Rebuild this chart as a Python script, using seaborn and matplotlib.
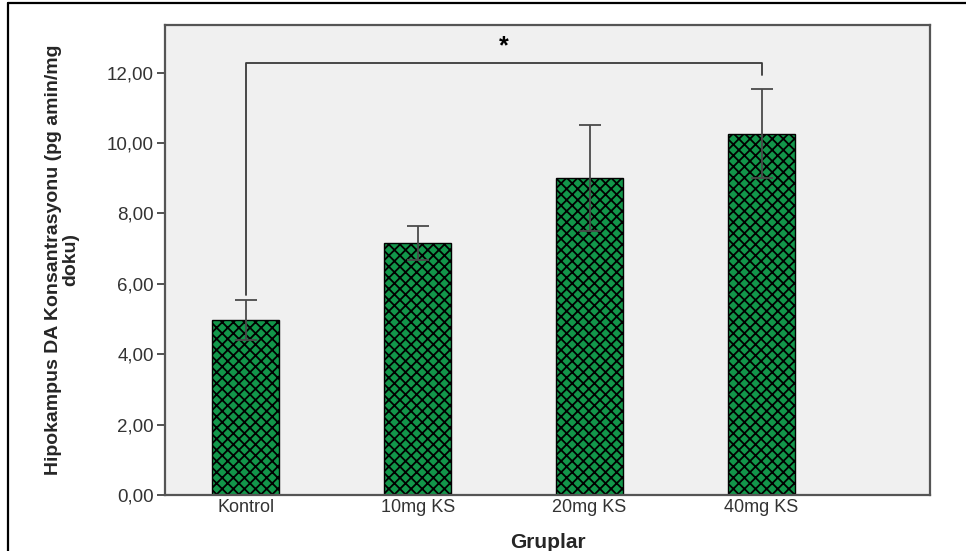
import matplotlib
matplotlib.use("Agg")
import matplotlib.pyplot as plt
import seaborn as sns
import numpy as np
import pandas as pd

groups = ["Kontrol", "10mg KS", "20mg KS", "40mg KS"]
means = [4.97, 7.16, 9.00, 10.26]
errors = [0.57, 0.48, 1.50, 1.27]
yticks = [0, 2, 4, 6, 8, 10, 12]
ytick_labels = ["0,00", "2,00", "4,00", "6,00", "8,00", "10,00", "12,00"]
ylabel = "Hipokampus DA Konsantrasyonu (pg amin/mg\ndoku)"
xlabel = "Gruplar"
sig_pair = (0, 3)
sig_text = "*"

sns.set_style("white")
plt.rcParams["font.family"] = ["Liberation Sans", "DejaVu Sans"]
plt.rcParams["hatch.color"] = "black"
plt.rcParams["hatch.linewidth"] = 1.3

fig = plt.figure(figsize=(9.66, 5.51), dpi=100)
ax = fig.add_axes([165/966, 1-495/551, (930-165)/966, (495-25)/551])
ax.set_facecolor("#f0f0f0")

df = pd.DataFrame({"grp": groups, "val": means})
sns.barplot(data=df, x="grp", y="val", order=groups, color="#0f8a45",
            width=0.39, edgecolor="black", linewidth=1.0, errorbar=None,
            saturation=1, ax=ax)
for p in ax.patches:
    p.set_hatch("xxx")
    p.set_facecolor("#12964a")

xpos = np.arange(len(groups))
ax.errorbar(xpos, means, yerr=errors, fmt="none", ecolor="#4a4a4a",
            elinewidth=1.3, capsize=8, capthick=1.3, zorder=5)

# significance bracket
top = 12.27
i, j = sig_pair
ax.plot([xpos[i], xpos[i], xpos[j], xpos[j]],
        [means[i] + errors[i] + 0.15, top, top, 11.93],
        color="#3a3a3a", lw=1.3, zorder=6)
ax.text((xpos[i] + xpos[j]) / 2, 12.75, sig_text, ha="center", va="center",
        fontsize=18, fontweight="bold", color="black")

ax.set_xlim(-0.47, 3.98)
ax.set_ylim(0, 13.35)
ax.set_yticks(yticks)
ax.set_yticklabels(ytick_labels, fontsize=13.5, color="#333333")
ax.tick_params(axis="y", direction="out", length=6, width=1.3, color="#444444", pad=2, left=True)
ax.tick_params(axis="x", length=0, pad=3, labelsize=13, labelcolor="#333333")

for s in ["left", "bottom", "top", "right"]:
    ax.spines[s].set_visible(True)
    ax.spines[s].set_color("#555555")
    ax.spines[s].set_linewidth(1.6)

lab_font = ["Liberation Sans Narrow", "Liberation Sans", "DejaVu Sans"]
ax.set_ylabel(ylabel, family=lab_font, fontsize=14, fontweight="bold",
              linespacing=1.0, labelpad=20)
ax.set_xlabel(xlabel, family=lab_font, fontsize=15, fontweight="bold", labelpad=12)

# figure frame (left and top)
fig.add_artist(plt.Line2D([8/966, 8/966], [0, 1-3/551], color="black", lw=1.6))
fig.add_artist(plt.Line2D([8/966, 1], [1-3/551, 1-3/551], color="black", lw=1.6))

fig.savefig("out.png", dpi=100)
